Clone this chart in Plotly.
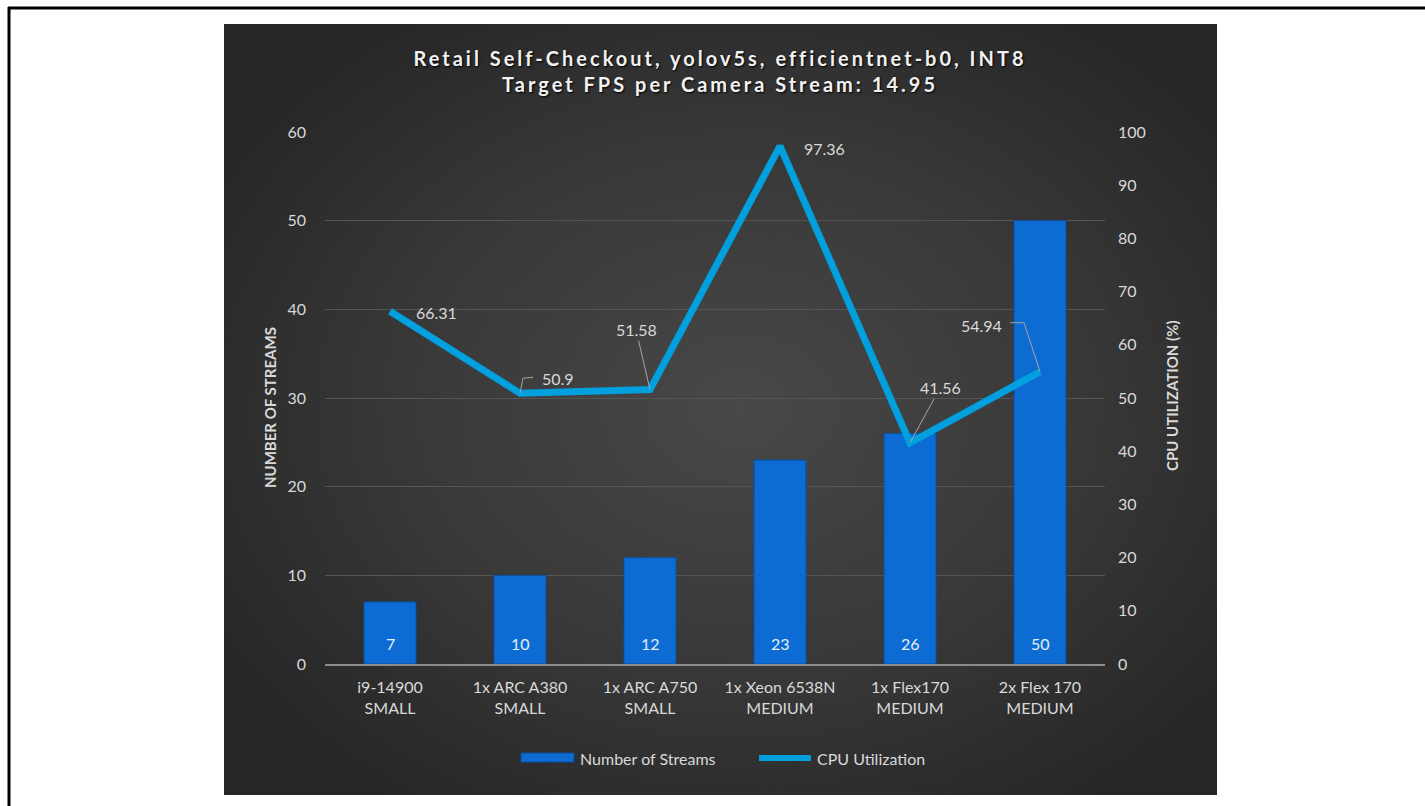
import base64
import plotly.graph_objects as go

# ---------------- data ----------------
devices = ["i9-14900", "1x ARC A380", "1x ARC A750", "1x Xeon 6538N", "1x Flex170", "2x Flex 170"]
model_sizes = ["SMALL", "SMALL", "SMALL", "MEDIUM", "MEDIUM", "MEDIUM"]
num_streams = [7, 10, 12, 23, 26, 50]
cpu_util = [66.31, 50.9, 51.58, 97.36, 41.56, 54.94]
left_ticks = [0, 10, 20, 30, 40, 50, 60]
right_ticks = [0, 10, 20, 30, 40, 50, 60, 70, 80, 90, 100]
title_lines = ["Retail Self-Checkout, yolov5s, efficientnet-b0, INT8",
               "Target FPS per Camera Stream: 14.95"]
series_names = ["Number of Streams", "CPU Utilization"]
axis_titles = ["NUMBER OF STREAMS", "CPU UTILIZATION (%)"]

categories = [f"{d}<br>{s}" for d, s in zip(devices, model_sizes)]

# ---------------- geometry / style ----------------
W, H = 1425, 806
L, R, T, B = 325, 1105, 132, 664
PW, PH = R - L, B - T


def px(x):
    return (x - L) / PW


def py(y):
    return (B - y) / PH


FONT = "Lato"
TXT = "#d9d9d9"
BAR_COLOR = "#0d6cd3"
BAR_EDGE = "#0a4f9e"
LINE_COLOR = "#00a0de"

svg = ("<svg xmlns='http://www.w3.org/2000/svg' width='993' height='771' viewBox='0 0 993 771' "
       "preserveAspectRatio='none'><defs><radialGradient id='g' cx='52%' cy='50%' r='62%'>"
       "<stop offset='0' stop-color='#484848'/><stop offset='0.55' stop-color='#383838'/>"
       "<stop offset='1' stop-color='#262626'/></radialGradient></defs>"
       "<rect width='993' height='771' fill='url(#g)'/></svg>")
bg_src = "data:image/svg+xml;base64," + base64.b64encode(svg.encode()).decode()

fig = go.Figure()
fig.add_trace(go.Bar(
    x=categories, y=num_streams, name=series_names[0], width=0.4,
    marker=dict(color=BAR_COLOR, line=dict(color=BAR_EDGE, width=1)),
    yaxis="y", showlegend=False, hoverinfo="x+y",
))
fig.add_trace(go.Scatter(
    x=categories, y=cpu_util, name=series_names[1], mode="lines",
    line=dict(color=LINE_COLOR, width=7), yaxis="y2", showlegend=False,
))

annotations = []
# bar value labels near the base
for c, v in zip(categories, num_streams):
    annotations.append(dict(x=c, y=0, xref="x", yref="y", text=str(v), showarrow=False,
                            yshift=21, font=dict(family=FONT, size=16, color="#e6eef8")))

# CPU labels: (xshift, yshift, leader) offsets in pixels relative to point
cpu_label_offsets = [(46, -1, None), (38, 15, "elbow_up"), (-14, 60, "straight"),
                     (44, -2, None), (30, 55, "straight"), (-59, 46, "elbow_left")]
shapes = []
for c, v, (dx, dy, leader) in zip(categories, cpu_util, cpu_label_offsets):
    label = f"{v:g}"
    if leader == "straight":
        annotations.append(dict(x=c, y=v, xref="x", yref="y2", text=label, showarrow=True,
                                arrowhead=0, arrowwidth=1, arrowcolor="#a6a6a6", ax=dx, ay=-dy,
                                font=dict(family=FONT, size=16, color=TXT)))
    else:
        annotations.append(dict(x=c, y=v, xref="x", yref="y2", text=label, showarrow=False,
                                xshift=dx, yshift=dy, font=dict(family=FONT, size=16, color=TXT)))
    if leader == "elbow_up":
        shapes.append(dict(type="path", xref="x", yref="y2", xsizemode="pixel", ysizemode="pixel",
                           xanchor=c, yanchor=v, path="M0,0 L3,15 L13,16",
                           line=dict(color="#a6a6a6", width=1)))
    elif leader == "elbow_left":
        shapes.append(dict(type="path", xref="x", yref="y2", xsizemode="pixel", ysizemode="pixel",
                           xanchor=c, yanchor=v, path="M0,0 L-16,49 L-30,49",
                           line=dict(color="#a6a6a6", width=1)))

# axis titles
annotations.append(dict(x=px(270), y=py(408), xref="paper", yref="paper", text=axis_titles[0],
                        textangle=-90, showarrow=False, xanchor="center", yanchor="middle",
                        font=dict(family=FONT, size=15, color=TXT, weight="bold")))
annotations.append(dict(x=px(1172), y=py(396), xref="paper", yref="paper", text=axis_titles[1],
                        textangle=-90, showarrow=False, xanchor="center", yanchor="middle",
                        font=dict(family=FONT, size=15, color=TXT, weight="bold")))

# custom legend
shapes.append(dict(type="rect", xref="paper", yref="paper", x0=px(521), x1=px(574), y0=py(762),
                   y1=py(753), fillcolor=BAR_COLOR, line=dict(color=BAR_EDGE, width=1)))
annotations.append(dict(x=px(578), y=py(758), xref="paper", yref="paper", text=series_names[0],
                        xanchor="left", yanchor="middle", showarrow=False,
                        font=dict(family=FONT, size=16, color=TXT)))
shapes.append(dict(type="line", xref="paper", yref="paper", x0=px(759), x1=px(811), y0=py(758),
                   y1=py(758), line=dict(color=LINE_COLOR, width=6)))
annotations.append(dict(x=px(815), y=py(758), xref="paper", yref="paper", text=series_names[1],
                        xanchor="left", yanchor="middle", showarrow=False,
                        font=dict(family=FONT, size=16, color=TXT)))

# black frame (left and top)
shapes.append(dict(type="line", xref="paper", yref="paper", x0=px(9), x1=px(9), y0=py(7), y1=py(806),
                   line=dict(color="black", width=3)))
shapes.append(dict(type="line", xref="paper", yref="paper", x0=px(8), x1=px(1425), y0=py(8), y1=py(8),
                   line=dict(color="black", width=3)))

title_text = "<br>".join(f"<span style='letter-spacing:3px'>{t}</span>" for t in title_lines)

fig.update_layout(
    width=W, height=H,
    margin=dict(l=L, r=W - R, t=T, b=H - B, pad=0),
    paper_bgcolor="white", plot_bgcolor="rgba(0,0,0,0)",
    title=dict(text=title_text, xref="paper", x=px(720), xanchor="center",
               yref="container", y=1 - 66 / H, yanchor="top",
               font=dict(family=FONT, size=20, color="#f2f2f2", weight="bold",
                         shadow="1px 1px 2px #000000")),
    xaxis=dict(type="category", showgrid=False, zeroline=False, showline=True,
               linecolor="#8c8c8c", linewidth=2, ticks="", ticklabelstandoff=8,
               tickfont=dict(family=FONT, size=16, color=TXT)),
    yaxis=dict(range=[0, 60], tickvals=left_ticks, showgrid=True, gridcolor="#555555",
               gridwidth=1, zeroline=False, showline=False, ticks="", ticklabelstandoff=18,
               tickfont=dict(family=FONT, size=16, color=TXT)),
    yaxis2=dict(range=[0, 100], tickvals=right_ticks, overlaying="y", side="right",
                showgrid=False, zeroline=False, showline=False, ticks="", ticklabelstandoff=12,
                tickfont=dict(family=FONT, size=16, color=TXT)),
    images=[dict(source=bg_src, xref="paper", yref="paper", x=px(224), y=py(24),
                 sizex=px(1217) - px(224), sizey=py(24) - py(795), xanchor="left",
                 yanchor="top", sizing="stretch", layer="below")],
    shapes=shapes, annotations=annotations, showlegend=False,
)

fig.write_html("out.html")
